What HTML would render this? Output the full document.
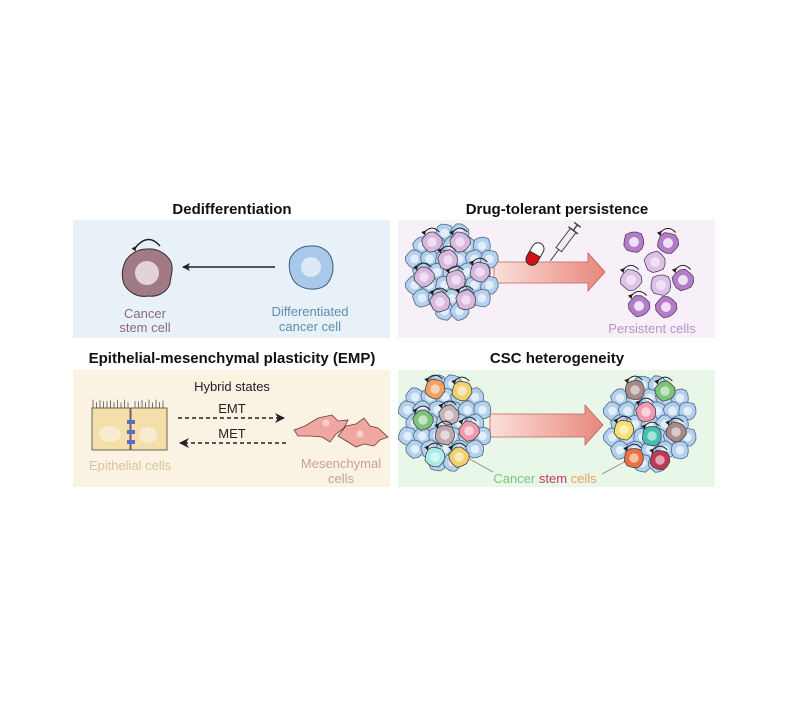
<!DOCTYPE html>
<html><head><meta charset="utf-8">
<style>
html,body{margin:0;padding:0;background:#fff;}
svg{display:block;font-family:"Liberation Sans",Arial,sans-serif;}
</style></head>
<body>
<svg id="s" width="787" height="718" viewBox="0 0 787 718" xmlns="http://www.w3.org/2000/svg">
<defs>
<linearGradient id="ag" x1="0" x2="1" y1="0" y2="0">
<stop offset="0" stop-color="#fbe0da"/><stop offset="1" stop-color="#e8877c"/>
</linearGradient>
<marker id="ah" markerWidth="8" markerHeight="8" refX="7" refY="4" orient="auto" markerUnits="userSpaceOnUse"><path d="M0,0 L8,4 L0,8 L2,4 Z" fill="#222"/></marker>
<marker id="ah2" markerWidth="10" markerHeight="10" refX="9" refY="5" orient="auto" markerUnits="userSpaceOnUse"><path d="M0,0 L10,5 L0,10 L3,5 Z" fill="#222"/></marker>
<marker id="sm" markerWidth="5" markerHeight="5" refX="2.5" refY="2.5" orient="auto" markerUnits="userSpaceOnUse"><path d="M0,0 L5,2.5 L0,5 Z" fill="#222"/></marker>
</defs>
<rect x="73" y="220" width="317" height="118" fill="#e8f0f8"/>
<rect x="398" y="220" width="317" height="118" fill="#f8f0f8"/>
<rect x="73" y="370" width="317" height="117" fill="#faf3e3"/>
<rect x="398" y="370" width="317" height="117" fill="#e9f7e8"/>
<g font-weight="bold" font-size="15" text-anchor="middle" fill="#111">
<text x="232" y="214">Dedifferentiation</text>
<text x="557" y="214">Drug-tolerant persistence</text>
<text x="232" y="363">Epithelial-mesenchymal plasticity (EMP)</text>
<text x="557" y="363">CSC heterogeneity</text>
</g>
<path d="M147,249 C160,248 168,256 171,262 C174,270 170,278 170,284 C166,294 156,297 148,296 C138,298 128,292 124,284 C121,276 122,268 126,260 C132,252 140,249 147,249Z" fill="#a07b86" stroke="#3a2a30" stroke-width="1"/>
<circle cx="147" cy="273" r="12" fill="#e3d3d6"/>
<path d="M135,248 Q148,232 160,246" fill="none" stroke="#222" stroke-width="1.5" marker-start="url(#sm)"/>
<line x1="275" y1="267" x2="183" y2="267" stroke="#222" stroke-width="1.5" marker-end="url(#ah)"/>
<path d="M310,246 C322,245 330,252 332,260 C335,270 331,280 326,285 C318,291 306,290 298,285 C290,279 288,268 290,259 C294,250 302,246 310,246Z" fill="#a9c9ea" stroke="#3b5a78" stroke-width="1"/>
<circle cx="311" cy="267" r="10" fill="#dce9f6"/>
<g font-size="13" text-anchor="middle">
<text x="145" y="318" fill="#8c6a74">Cancer</text>
<text x="145" y="332" fill="#8c6a74">stem cell</text>
<text x="310" y="316" fill="#5b8fb0">Differentiated</text>
<text x="310" y="331" fill="#5b8fb0">cancer cell</text>
<text x="652" y="333" fill="#b591c9">Persistent cells</text>
<text x="130" y="470" fill="#d9c59c">Epithelial cells</text>
<text x="341" y="468" fill="#c9a09c">Mesenchymal</text>
<text x="341" y="483" fill="#c9a09c">cells</text>
<text x="232" y="391" fill="#222">Hybrid states</text>
<text x="232" y="413" fill="#222">EMT</text>
<text x="232" y="438" fill="#222">MET</text>
<text x="545" y="483"><tspan fill="#7cc47c">Cancer </tspan><tspan fill="#c0385c">stem </tspan><tspan fill="#f0a060">cells</tspan></text>
</g>
<path d="M494,262 L588,262 L588,253 L605,272 L588,291 L588,283 L494,283 Z" fill="url(#ag)" stroke="#c06058" stroke-width="0.8"/>
<g transform="translate(535,254) rotate(-60)">
<rect x="-12" y="-6" width="24" height="12" rx="6" fill="#fff" stroke="#333" stroke-width="1"/>
<path d="M0,-6 L-6,-6 A6,6 0 0 0 -6,6 L0,6 Z" fill="#d0101a" stroke="#333" stroke-width="1"/>
</g>
<g transform="translate(566,240) rotate(-143)">
<line x1="0" y1="-26" x2="0" y2="-12" stroke="#444" stroke-width="1"/>
<rect x="-3.5" y="-12" width="7" height="24" fill="#eee" stroke="#444" stroke-width="1"/>
<line x1="-6" y1="12" x2="6" y2="12" stroke="#444" stroke-width="1.5"/>
<line x1="0" y1="12" x2="0" y2="19" stroke="#444" stroke-width="1.5"/>
<line x1="-4" y1="19" x2="4" y2="19" stroke="#444" stroke-width="1.5"/>
</g>
<path d="M490,414 L585,414 L585,405 L603,425 L585,445 L585,437 L490,437 Z" fill="url(#ag)" stroke="#c06058" stroke-width="0.8"/>
<g stroke="#444" stroke-width="0.8">
<rect x="92" y="408" width="38" height="42" fill="#f4deaa"/>
<rect x="131" y="408" width="36" height="42" fill="#f4deaa"/>
</g>
<g id="cilia" stroke="#555" stroke-width="0.8" fill="none"></g>
<ellipse cx="110" cy="434" rx="11" ry="8" fill="#f8ecd0"/>
<ellipse cx="148" cy="435" rx="9" ry="8" fill="#f8ecd0"/>
<rect x="127" y="420" width="8" height="4" fill="#5a6cd0"/>
<rect x="127" y="430" width="8" height="4" fill="#5a6cd0"/>
<rect x="127" y="440" width="8" height="4" fill="#5a6cd0"/>
<line x1="178" y1="418" x2="284" y2="418" stroke="#222" stroke-width="1.6" stroke-dasharray="4,3" marker-end="url(#ah2)"/>
<line x1="286" y1="443" x2="180" y2="443" stroke="#222" stroke-width="1.6" stroke-dasharray="4,3" marker-end="url(#ah2)"/>
<path d="M294,430 L305,426 L318,418 L332,415 L338,421 L348,420 L344,428 L336,434 L330,442 L322,437 L310,436 L298,436 Z" fill="#f0a7a2" stroke="#6a3a3a" stroke-width="0.8"/>
<circle cx="326" cy="423" r="3.5" fill="#f8cfcc"/>
<path d="M338,436 L346,426 L356,424 L364,418 L370,426 L378,428 L388,437 L380,440 L374,446 L364,444 L356,447 L348,442 Z" fill="#f0a7a2" stroke="#6a3a3a" stroke-width="0.8"/>
<circle cx="360" cy="434" r="3.5" fill="#f8cfcc"/>
<line x1="468" y1="458" x2="493" y2="472" stroke="#888" stroke-width="0.8"/>
<line x1="628" y1="460" x2="602" y2="474" stroke="#888" stroke-width="0.8"/>
<g id="dyn"></g>
</svg>
<script>
var NS="http://www.w3.org/2000/svg",dyn=document.getElementById("dyn");
function el(t,a,p){var e=document.createElementNS(NS,t);for(var k in a)e.setAttribute(k,a[k]);(p||dyn).appendChild(e);return e;}
function cell(x,y,r,fill,nuc,stroke){
 var pts=[];for(var i=0;i<12;i++){var a=i/12*Math.PI*2+0.2,rr=r*(0.95+0.06*Math.sin(i*2.3+x*0.7));pts.push((x+rr*Math.cos(a)).toFixed(1)+","+(y+rr*Math.sin(a)).toFixed(1));}
 el("polygon",{points:pts.join(" "),fill:fill,stroke:stroke||"#4a6a88","stroke-width":0.8,"stroke-linejoin":"round"});
 el("circle",{cx:x,cy:y,r:r*0.45,fill:nuc});
}
function arc(x,y,r){el("path",{d:"M"+(x-r*0.7)+","+(y-r*0.95)+" Q"+x+","+(y-r*1.7)+" "+(x+r*0.7)+","+(y-r*0.95),fill:"none",stroke:"#222","stroke-width":1,"marker-start":"url(#sm)"});}
function cluster(cx,cy,R,specials){
 var s=15;
 for(var j=-4;j<=4;j++){for(var i=-5;i<=5;i++){var x=cx+i*s+(j%2?s/2:0),y=cy+j*s*0.87;if(Math.hypot(x-cx,y-cy)<R-8)cell(x,y,9.5,"#b4d0ec","#e2eef9");}}
 specials.forEach(function(p){cell(cx+p[0],cy+p[1],10.5,p[2],"rgba(255,255,255,0.55)","#444");arc(cx+p[0],cy+p[1],10.5);});
}
cluster(452,272,50,[[-20,-30,"#d8b8e0"],[8,-30,"#d8b8e0"],[-4,-12,"#d8b8e0"],[-28,5,"#d8b8e0"],[4,8,"#d8b8e0"],[28,0,"#d8b8e0"],[-12,30,"#d8b8e0"],[14,28,"#d8b8e0"]]);
[[634,242,"#b57cc8",0],[668,243,"#b57cc8",1],[655,262,"#dcc3e6",0],[631,280,"#dcc3e6",1],[661,285,"#dcc3e6",0],[683,280,"#b57cc8",1],[639,306,"#b57cc8",1],[666,307,"#b57cc8",0]].forEach(function(c){cell(c[0],c[1],11,c[2],"#efe2f4","#5a3a6a");if(c[3])arc(c[0],c[1],11);});
cluster(445,423,50,[[-10,-34,"#f0a060"],[17,-32,"#f0d070"],[4,-8,"#c8b0b8"],[-22,-3,"#7cc47c"],[0,12,"#c0a8b0"],[24,8,"#f09ab0"],[-10,34,"#a8ecec"],[14,34,"#f0d070"]]);
cluster(650,424,50,[[-15,-34,"#a88888"],[15,-33,"#7cc47c"],[-4,-12,"#f09ab0"],[-26,6,"#f8e070"],[2,12,"#40c0b0"],[26,8,"#a88888"],[-16,34,"#f07040"],[10,36,"#c03858"]]);
var c=document.getElementById("cilia");
for(var x=93;x<=166;x+=3.5){if(x>129&&x<132)continue;el("path",{d:"M"+x+",408 L"+x+","+(401+Math.sin(x)*1.5)},c);}
</script>
</body></html>
